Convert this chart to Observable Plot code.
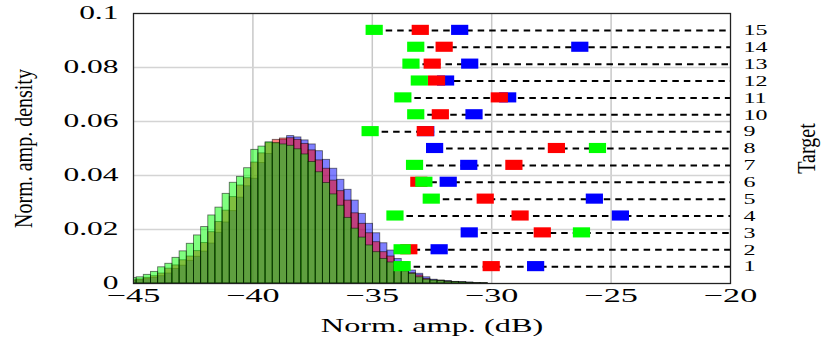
<!DOCTYPE html>
<html><head><meta charset="utf-8">
<script src="https://cdn.jsdelivr.net/npm/d3@7"></script>
<script src="https://cdn.jsdelivr.net/npm/@observablehq/plot@0.6"></script>
<style>body{margin:0;background:#fff}</style>
</head><body><div id="chart"></div>
<script>
// ---- axes / ticks ----
const xTicks = [-45, -40, -35, -30, -25, -20];
const yTicks = [0, 0.02, 0.04, 0.06, 0.08, 0.1];
const targets = [1, 2, 3, 4, 5, 6, 7, 8, 9, 10, 11, 12, 13, 14, 15];
const targetMax = 16;            // right "Target" axis spans 0..16 over the frame
const xLabel = "Norm. amp. (dB)";
const yLabel = "Norm. amp. density";
const rightLabel = "Target";

// ---- histogram bins (left edge of first bin, bin width in dB) ----
const binStart = -45.168;
const binWidth = 0.3;
const blueHist = [0.0010,0.0012,0.0016,0.0021,0.0027,0.0037,0.0054,0.0066,0.0084,0.0099,
  0.0118,0.0148,0.0188,0.0226,0.0268,0.0318,0.0360,0.0388,0.0446,0.0480,
  0.0518,0.0532,0.0546,0.0541,0.0530,0.0515,0.0490,0.0458,0.0425,0.0384,
  0.0347,0.0307,0.0258,0.0221,0.0186,0.0149,0.0122,0.0091,0.0079,0.0048,
  0.0036,0.0023,0.0014,0.0011,0.0009,0.0006,0.0005,0.0004,0.0002,0.0001];
const redHist = [0.0012,0.0015,0.0021,0.0027,0.0037,0.0055,0.0067,0.0086,0.0100,0.0120,
  0.0150,0.0190,0.0228,0.0270,0.0320,0.0363,0.0390,0.0448,0.0482,0.0520,
  0.0532,0.0537,0.0538,0.0532,0.0517,0.0493,0.0456,0.0425,0.0381,0.0342,
  0.0307,0.0260,0.0221,0.0186,0.0153,0.0116,0.0100,0.0079,0.0054,0.0038,
  0.0030,0.0017,0.0011,0.0010,0.0007,0.0005,0.0004,0.0002,0.0001,0.0001];
const greenHist = [0.0020,0.0023,0.0032,0.0043,0.0060,0.0073,0.0095,0.0119,0.0147,0.0178,
  0.0209,0.0252,0.0281,0.0332,0.0373,0.0395,0.0427,0.0495,0.0507,0.0523,
  0.0520,0.0515,0.0510,0.0497,0.0478,0.0450,0.0412,0.0372,0.0330,0.0288,
  0.0243,0.0203,0.0170,0.0141,0.0116,0.0091,0.0078,0.0063,0.0045,0.0036,
  0.0023,0.0014,0.0011,0.0009,0.0006,0.0005,0.0004,0.0002,0.0001,0.0001];

// ---- per-target markers (dB), targets 1..15 ----
const blueMarker  = [-28.14,-32.18,-30.92,-24.59,-25.68,-31.80,-30.94,-32.37,-32.74,-30.72,-29.31,-31.91,-30.90,-26.29,-31.32];
const redMarker   = [-30.00,-33.45,-27.86,-28.79,-30.25,-33.03,-29.05,-27.27,-32.76,-32.13,-29.66,-32.29,-32.47,-31.97,-32.97];
const greenMarker = [-33.73,-33.73,-26.22,-34.03,-32.51,-32.82,-33.21,-25.55,-35.07,-33.16,-33.70,-33.01,-33.36,-33.16,-34.90];

const FONT = "Liberation Serif, Times New Roman, serif";
const f = 0.1 / targetMax;               // target units -> density units
const halfW = 0.36, halfH = 0.3 * f;     // marker half size

const bars = (arr, color) => Plot.rectY(arr, {
  x1: (d, i) => binStart + i * binWidth,
  x2: (d, i) => binStart + (i + 1) * binWidth,
  y: d => d,
  fill: color, fillOpacity: 0.5,
  stroke: "black", strokeOpacity: 0.55, strokeWidth: 0.9,
  clip: true
});
const markers = (arr, color) => Plot.rect(targets, {
  x1: (t, i) => arr[i] - halfW,
  x2: (t, i) => arr[i] + halfW,
  y1: t => t * f - halfH,
  y2: t => t * f + halfH,
  fill: color
});

const svg = Plot.plot({
  width: 831, height: 341,
  marginLeft: 133, marginRight: 101, marginTop: 13, marginBottom: 58,
  style: {fontFamily: FONT, background: "white", overflow: "visible"},
  x: {domain: [-45, -20]},
  y: {domain: [0, 0.1]},
  marks: [
    Plot.gridX({ticks: xTicks.slice(1, -1), stroke: "#c8c8c8", strokeOpacity: 1, strokeWidth: 1.5}),
    Plot.gridY({ticks: yTicks.slice(1, -1), stroke: "#d4d4d4", strokeOpacity: 1, strokeWidth: 1.5}),
    bars(blueHist, "#0000ff"),
    bars(redHist, "#ff0000"),
    bars(greenHist, "#00ff00"),
    Plot.ruleY(targets, {
      y: t => t * f,
      x1: (t, i) => Math.min(blueMarker[i], redMarker[i], greenMarker[i]),
      x2: -20,
      stroke: "black", strokeWidth: 2, strokeDasharray: "6.5,5"
    }),
    markers(blueMarker, "#0000ff"),
    markers(redMarker, "#ff0000"),
    markers(greenMarker, "#00ff00"),
    Plot.frame({stroke: "#222", strokeWidth: 1.3}),
    Plot.axisX({ticks: xTicks, tickSize: 0, tickPadding: 5, fontSize: 19, label: null,
      tickFormat: d => (d < 0 ? "\u2212" : "") + Math.abs(d)}),
    Plot.axisY({ticks: yTicks, tickSize: 0, tickPadding: 15, fontSize: 18, label: null,
      tickFormat: d => String(+d.toFixed(2))}),
    Plot.axisY({anchor: "right", ticks: targets.map(t => t * f), tickSize: 0, tickPadding: 13,
      fontSize: 15, label: null, tickFormat: d => String(Math.round(d / f))}),
    Plot.text([xLabel], {frameAnchor: "bottom", dy: 42, text: d => d, fontSize: 19,
      textAnchor: "middle", lineAnchor: "middle"}),
    Plot.text([yLabel], {frameAnchor: "left", dx: -110, rotate: -90, text: d => d, fontSize: 20,
      textAnchor: "middle", lineAnchor: "middle"}),
    Plot.text([rightLabel], {frameAnchor: "right", dx: 76, rotate: -90, text: d => d, fontSize: 20,
      textAnchor: "middle", lineAnchor: "middle"})
  ]
});
document.getElementById("chart").append(svg);

// horizontal stretch of the glyphs (the reference's typeface is set wide)
function stretch(t, s, rotated) {
  const bb = t.getBBox();
  const anchor = getComputedStyle(t).textAnchor;
  const old = t.getAttribute("transform") || "";
  if (rotated) {
    const cy = bb.y + bb.height / 2;
    t.setAttribute("transform", old + ` translate(0,${cy}) scale(1,${s}) translate(0,${-cy})`);
  } else {
    const cx = anchor === "end" ? bb.x + bb.width : anchor === "start" ? bb.x : bb.x + bb.width / 2;
    t.setAttribute("transform", old + ` translate(${cx},0) scale(${s},1) translate(${-cx},0)`);
  }
}
svg.querySelectorAll("text").forEach(t => {
  const g = t.closest("g[aria-label]");
  const label = g ? g.getAttribute("aria-label") : "";
  const anchor = getComputedStyle(t).textAnchor;
  const txt = t.textContent;
  if (txt === xLabel) stretch(t, 1.7, false);
  else if (txt === yLabel || txt === rightLabel) stretch(t, 1.25, true);
  else if (label === "x-axis tick label") stretch(t, 1.8, false);
  else if (label === "y-axis tick label") stretch(t, anchor === "start" ? 1.6 : 1.75, false);
});
</script>
</body></html>
